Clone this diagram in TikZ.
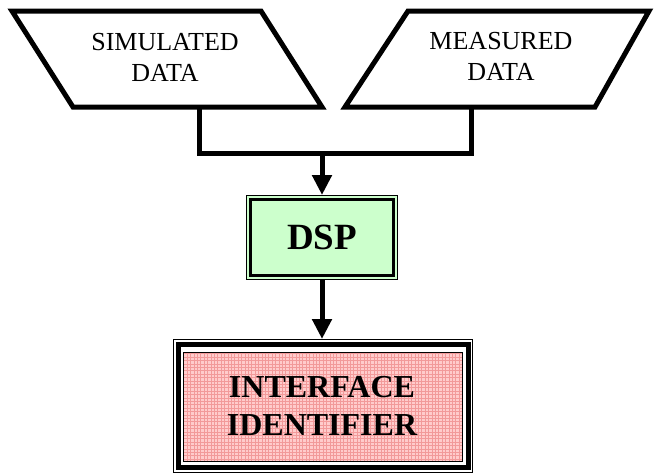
\documentclass[tikz,border=0pt]{standalone}
\usepackage{fontspec}
\setmainfont{Liberation Serif}
\usetikzlibrary{arrows.meta}
\definecolor{dspgreen}{HTML}{CCFFCC}
\definecolor{ifpink}{HTML}{FFCCCC}
\definecolor{gridpink}{HTML}{F29A9A}
\tikzset{
  databox/.style={line width=5pt, line join=miter},
  datatext/.style={align=center, font=\fontsize{26}{31}\selectfont, inner sep=0pt},
  wire/.style={line width=5pt, line join=miter},
  flow/.style={line width=5pt, -{Triangle[length=20pt,width=19pt]}},
  boldtext/.style={align=center, font=\bfseries\fontsize{32}{38}\selectfont, inner sep=0pt},
}
\begin{document}
\begin{tikzpicture}[x=1pt,y=-1pt]
\useasboundingbox (0,0) rectangle (656,475);
% parallelograms
\coordinate (l1) at (12,11); \coordinate (l2) at (261,11);
\coordinate (l3) at (322,107); \coordinate (l4) at (73,107);
\draw[databox] (l1) -- (l2) -- (l3) -- (l4) -- cycle;
\coordinate (r1) at (408,11); \coordinate (r2) at (649,11);
\coordinate (r3) at (595,107); \coordinate (r4) at (345,107);
\draw[databox] (r1) -- (r2) -- (r3) -- (r4) -- cycle;
\node[datatext] (sim) at (165,57) {SIMULATED\\DATA};
\node[datatext] (meas) at (501,56) {MEASURED\\DATA};
% connector
\coordinate (simout) at (199,107);
\coordinate (measout) at (471,107);
\coordinate (join) at (322,153);
\draw[wire] (simout) -- (199,153) -- (471,153) -- (measout);
% DSP
\node[draw, line width=1pt, fill=dspgreen, minimum width=151pt, minimum height=84pt, inner sep=0pt] (dsp) at (322,237.5) {};
\draw[line width=2.5pt] ([xshift=4.5pt,yshift=-4.5pt]dsp.north west) rectangle ([xshift=-4.5pt,yshift=4.5pt]dsp.south east);
\node[font=\bfseries\fontsize{37}{40}\selectfont, inner sep=0pt] (dsptext) at (dsp.center) {DSP};
\draw[flow] (join) -- (dsp.north);
% Interface identifier
\node[draw, line width=1pt, minimum width=299pt, minimum height=133pt, inner sep=0pt] (ifid) at (323,406) {};
\draw[line width=5pt] ([xshift=5pt,yshift=-5.5pt]ifid.north west) rectangle ([xshift=-5pt,yshift=5.5pt]ifid.south east);
\fill[ifpink] ([xshift=10pt,yshift=-13pt]ifid.north west) rectangle ([xshift=-11pt,yshift=12pt]ifid.south east);
\begin{scope}
\clip ([xshift=10pt,yshift=-13pt]ifid.north west) rectangle ([xshift=-11pt,yshift=12pt]ifid.south east);
\draw[gridpink, line width=0.6pt, step=3.4pt] (150,320) grid (480,480);
\end{scope}
\draw[line width=1pt] ([xshift=10pt,yshift=-13pt]ifid.north west) rectangle ([xshift=-11pt,yshift=12pt]ifid.south east);
\node[boldtext] (iftext) at (322,406) {INTERFACE\\IDENTIFIER};
\draw[flow] (dsp.south) -- (dsp.south |- ifid.north);
\end{tikzpicture}
\end{document}
